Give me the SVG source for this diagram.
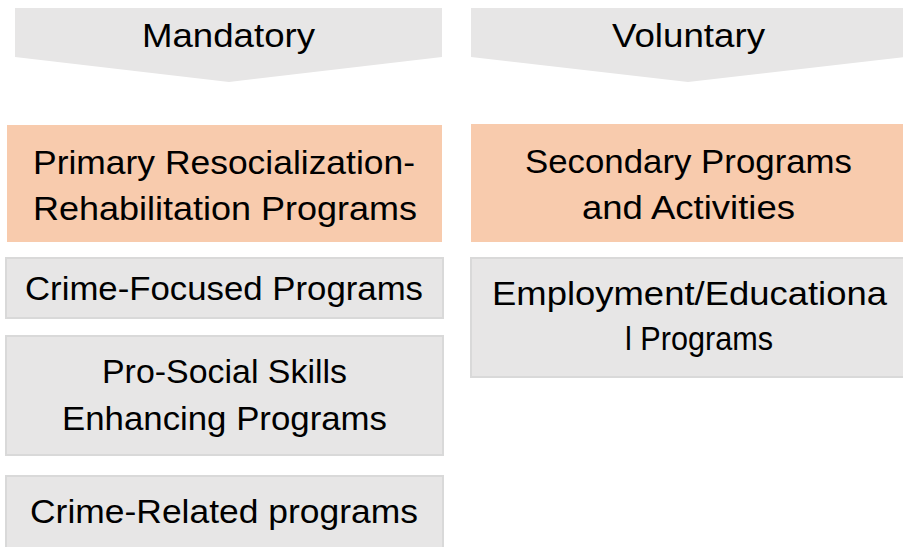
<svg xmlns="http://www.w3.org/2000/svg" width="903" height="547" viewBox="0 0 903 547">
<style>
.chev{fill:#E7E6E6}
.prim{fill:#F8CBAD}
.sub{fill:#E7E6E6;stroke:#D9D9D9;stroke-width:2}
text{font-family:"Liberation Sans",Arial,sans-serif;font-size:34px;fill:#000;text-anchor:middle}
</style>
<rect width="903" height="547" fill="#fff"/>
<g id="mandatory">
<polygon class="chev" points="15,8 442,8 442,57 229,82 15,57"/>
<text x="228.5" y="47" textLength="173" lengthAdjust="spacingAndGlyphs">Mandatory</text>
</g>
<g id="voluntary">
<polygon class="chev" points="471,8 906,8 906,57 688,82 471,57"/>
<text x="688.5" y="47" textLength="153" lengthAdjust="spacingAndGlyphs">Voluntary</text>
</g>
<g id="primary">
<rect class="prim" x="7" y="125" width="435" height="117"/>
<text x="224" y="174" textLength="382" lengthAdjust="spacingAndGlyphs">Primary Resocialization-</text>
<text x="225" y="220" textLength="384" lengthAdjust="spacingAndGlyphs">Rehabilitation Programs</text>
</g>
<g id="crime-focused">
<rect class="sub" x="6" y="258" width="437" height="60"/>
<text x="224" y="300" textLength="398" lengthAdjust="spacingAndGlyphs">Crime-Focused Programs</text>
</g>
<g id="pro-social">
<rect class="sub" x="6" y="336" width="437" height="119"/>
<text x="224.5" y="383" textLength="245" lengthAdjust="spacingAndGlyphs">Pro-Social Skills</text>
<text x="224.5" y="430" textLength="325" lengthAdjust="spacingAndGlyphs">Enhancing Programs</text>
</g>
<g id="crime-related">
<rect class="sub" x="6" y="476" width="437" height="80"/>
<text x="224" y="523" textLength="388" lengthAdjust="spacingAndGlyphs">Crime-Related programs</text>
</g>
<g id="secondary">
<rect class="prim" x="471" y="124" width="440" height="118"/>
<text x="688.5" y="173" textLength="327" lengthAdjust="spacingAndGlyphs">Secondary Programs</text>
<text x="688.5" y="219" textLength="213" lengthAdjust="spacingAndGlyphs">and Activities</text>
</g>
<g id="employment">
<rect class="sub" x="471" y="258" width="440" height="119"/>
<text x="689.5" y="305" textLength="395" lengthAdjust="spacingAndGlyphs">Employment/Educationa</text>
<text x="699" y="350" textLength="148" lengthAdjust="spacingAndGlyphs">l Programs</text>
</g>
<g id="connectors"></g>
</svg>
